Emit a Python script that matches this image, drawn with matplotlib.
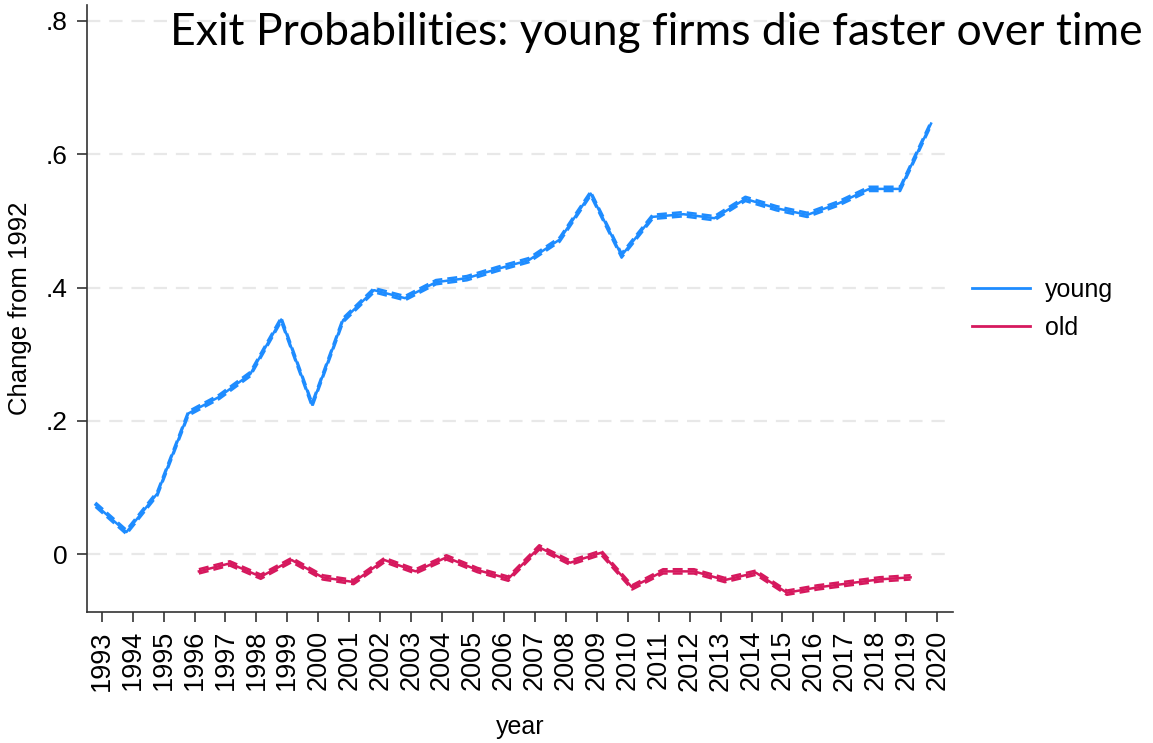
import numpy as np
import matplotlib
matplotlib.use("Agg")
import matplotlib.pyplot as plt
from matplotlib.lines import Line2D

# Data
years = list(range(1993, 2021))
young = [0.074, 0.033, 0.091, 0.211, 0.236, 0.270, 0.352, 0.224, 0.351, 0.396,
         0.384, 0.408, 0.414, 0.428, 0.441, 0.472, 0.541, 0.448, 0.506, 0.510,
         0.504, 0.533, 0.519, 0.509, 0.526, 0.548, 0.548, 0.646]
old_years = list(range(1996, 2020))
old = [-0.026, -0.014, -0.034, -0.009, -0.035, -0.042, -0.009, -0.026, -0.005, -0.024,
       -0.037, 0.010, -0.013, 0.002, -0.050, -0.026, -0.026, -0.039, -0.028, -0.058,
       -0.050, -0.044, -0.038, -0.035]
young_ci = 0.0032
old_ci = 0.0032

yticks = [0, 0.2, 0.4, 0.6, 0.8]
ytick_labels = ["0", ".2", ".4", ".6", ".8"]

young_col = "#1E8CFF"
old_col = "#D6195E"

plt.rcParams['font.family'] = ['Liberation Sans', 'DejaVu Sans']

fig = plt.figure(figsize=(11.53, 7.43), dpi=100)
ax = fig.add_axes([87 / 1153, 0.1763, (952.7 - 87) / 1153, 0.817])

yx = np.array(years) - 0.2
ox = np.array(old_years) + 0.14
young = np.array(young)
old = np.array(old)

# estimate lines with dashed CI bounds
for x, y, ci, c in [(yx, young, young_ci, young_col), (ox, old, old_ci, old_col)]:
    ax.plot(x, y, color=c, lw=1.8, zorder=3)
    ax.plot(x, y + ci, color=c, lw=1.8, dashes=(4, 2), zorder=3)
    ax.plot(x, y - ci, color=c, lw=1.8, dashes=(4, 2), zorder=3)

ax.set_xlim(1992.525, 2020.5)
ax.set_ylim(-0.087, 0.824)
ax.set_xticks(years)
ax.set_xticklabels([str(y) for y in years], rotation=90)
ax.set_yticks(yticks)
ax.set_yticklabels(ytick_labels)
ax.tick_params(axis='both', labelsize=18, length=7, width=1.2, color='#333333', direction='out')
ax.tick_params(axis='x', labelsize=19.5, pad=6)
ax.tick_params(axis='y', labelsize=19, pad=7)

ax.grid(axis='y', color='#e8e8e8', lw=1.6, dashes=(6, 4))
ax.set_axisbelow(True)
for s in ['top', 'right']:
    ax.spines[s].set_visible(False)
for s in ['left', 'bottom']:
    ax.spines[s].set_color('#333333')
    ax.spines[s].set_linewidth(1.2)

ax.set_ylabel("Change from 1992", fontsize=18.5, labelpad=10)
fig.text(520 / 1153, 1 - 727 / 743, "year", fontsize=18, ha='center', va='center')

handles = [Line2D([], [], color=young_col, lw=2), Line2D([], [], color=old_col, lw=2)]
fig.legend(handles, ["young", "old"], loc='center left', bbox_to_anchor=(972 / 1153, 1 - 309 / 743),
           frameon=False, fontsize=18, handlelength=2.3, handletextpad=0.6, labelspacing=0.55,
           borderpad=0, borderaxespad=0)

fig.text(170 / 1153, 1 - 45 / 743, "Exit Probabilities: young firms die faster over time",
         fontsize=32, family=['Lato', 'DejaVu Sans'], ha='left', va='baseline')

fig.savefig("out.png", dpi=100)
